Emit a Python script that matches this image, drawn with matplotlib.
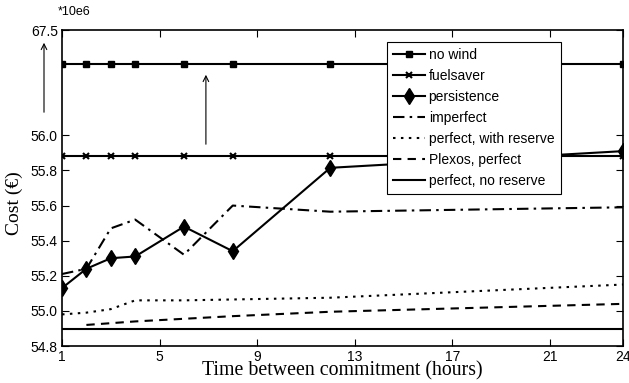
import numpy as np
import matplotlib
matplotlib.use("Agg")
import matplotlib.pyplot as plt

# ---- data ----
x_common = [1, 2, 3, 4, 6, 8, 12, 24]
no_wind = [63.82] * 8
fuelsaver = [55.884] * 8
persistence = [55.13, 55.24, 55.30, 55.31, 55.48, 55.34, 55.815, 55.91]
imperfect = [55.21, 55.24, 55.47, 55.52, 55.32, 55.60, 55.565, 55.59]
perfect_reserve = [54.98, 54.99, 55.01, 55.06, 55.06, 55.065, 55.075, 55.15]
x_plexos = [2, 3, 4, 6, 8, 12, 24]
plexos = [54.92, 54.93, 54.94, 54.955, 54.97, 54.995, 55.04]
x_noreserve = [1, 24]
perfect_noreserve = [54.895, 54.895]

xticks = [1, 5, 9, 13, 17, 21, 24]
yticks = [54.8, 55.0, 55.2, 55.4, 55.6, 55.8, 56.0, 67.5]

# ---- broken-axis scale ----
BREAK = 56.0
K = 0.6 / 11.5

def fwd(v):
    v = np.asarray(v, dtype=float)
    return np.where(v <= BREAK, v, BREAK + (v - BREAK) * K)

def inv(u):
    u = np.asarray(u, dtype=float)
    return np.where(u <= BREAK, u, BREAK + (u - BREAK) / K)

sans = ['Liberation Sans', 'DejaVu Sans']
serif = ['Liberation Serif', 'DejaVu Serif']
plt.rcParams['font.family'] = sans

fig = plt.figure(figsize=(6.29, 3.83), dpi=100)
ax = fig.add_axes([62 / 629, 1 - 346 / 383, (623 - 62) / 629, (346 - 30) / 383])
ax.set_yscale('function', functions=(fwd, inv))

c = 'black'
lw = 1.5
ax.plot(x_common, no_wind, '-', color=c, lw=lw, marker='s', ms=5, label='no wind')
ax.plot(x_common, fuelsaver, '-', color=c, lw=lw, marker='x', ms=4, mew=1.5, label='fuelsaver')
ax.plot(x_common, persistence, '-', color=c, lw=lw, marker='d', ms=8, label='persistence')
ax.plot(x_common, imperfect, color=c, lw=lw, linestyle=(0, (5.5, 2.5, 1.2, 2.5)), label='imperfect')
ax.plot(x_common, perfect_reserve, color=c, lw=lw, linestyle=(0, (1.2, 2.6)), label='perfect, with reserve')
ax.plot(x_plexos, plexos, color=c, lw=lw, linestyle=(0, (4, 3)), label='Plexos, perfect')
ax.plot(x_noreserve, perfect_noreserve, '-', color=c, lw=lw, label='perfect, no reserve')

ax.set_xlim(1, 24)
ax.set_ylim(54.8, 67.5)
ax.set_xticks(xticks)
ax.set_xticklabels([str(t) for t in xticks])
ax.set_yticks(yticks)
ax.set_yticklabels(['%.1f' % t for t in yticks])
ax.minorticks_off()
ax.tick_params(direction='in', top=True, right=True, length=5, width=0.8,
               labelsize=10, pad=3)
for s in ax.spines.values():
    s.set_linewidth(1.2)

ax.set_xlabel('Time between commitment (hours)', family=serif, fontsize=14.3)
ax.xaxis.set_label_coords(0.5, -0.048)
ax.set_ylabel('Cost (€)', family=serif, fontsize=14)
ax.yaxis.set_label_coords(-0.07, 0.452)

leg = ax.legend(loc='upper left', bbox_to_anchor=(387 / 629, 1 - 42 / 383),
                bbox_transform=fig.transFigure, fontsize=10, frameon=True,
                fancybox=False, edgecolor='black', framealpha=1,
                handlelength=2.3, handletextpad=0.25, labelspacing=0.5,
                borderpad=0.45, borderaxespad=0)
leg.get_frame().set_linewidth(0.8)

# arrows
ax.annotate('', xy=(44 / 629, 1 - 40 / 383), xytext=(44 / 629, 1 - 115 / 383),
            xycoords='figure fraction', textcoords='figure fraction',
            arrowprops=dict(arrowstyle='->', lw=0.8, color=c))
ax.annotate('', xy=(6.9, (346 - 72) / 316), xytext=(6.9, (346 - 147) / 316),
            xycoords=('data', 'axes fraction'), textcoords=('data', 'axes fraction'),
            arrowprops=dict(arrowstyle='->', lw=0.8, color=c))

fig.text(58 / 629, 1 - 12 / 383, '*10e6', fontsize=9, va='center', ha='left')

fig.savefig('out.png', dpi=100)
